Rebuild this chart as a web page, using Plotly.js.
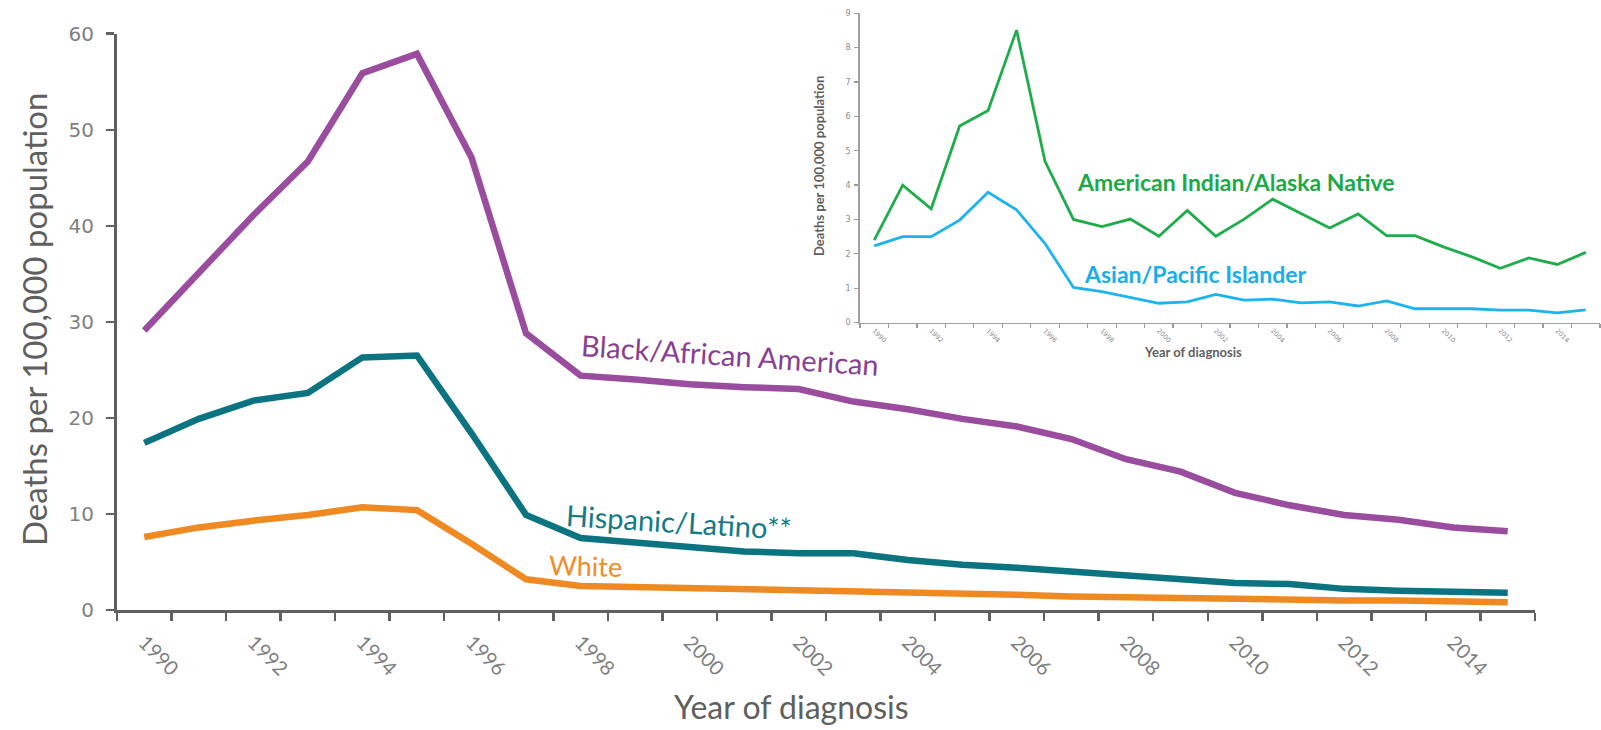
<!DOCTYPE html>
<html>
<head>
<meta charset="utf-8">
<script src="https://cdn.plot.ly/plotly-3.0.1.min.js"></script>
<style>
  html, body { margin: 0; padding: 0; background: #ffffff; }
  #chart { width: 1601px; height: 730px; }
</style>
</head>
<body>
<div id="chart"></div>
<script>
// ---- Data ----
const years = [1990, 1991, 1992, 1993, 1994, 1995, 1996, 1997, 1998, 1999, 2000, 2001, 2002,
               2003, 2004, 2005, 2006, 2007, 2008, 2009, 2010, 2011, 2012, 2013, 2014, 2015];

const tickYears  = [1990, 1992, 1994, 1996, 1998, 2000, 2002, 2004, 2006, 2008, 2010, 2012, 2014];
const tickLabels = ['1990', '1992', '1994', '1996', '1998', '2000', '2002', '2004', '2006', '2008', '2010', '2012', '2014'];

const blackAfricanAmerican = [29.1, 35.1, 41.1, 46.7, 55.9, 57.9, 47.1, 28.8, 24.4, 24.0, 23.5, 23.2, 23.0,
                              21.7, 20.9, 19.9, 19.1, 17.8, 15.7, 14.4, 12.2, 10.9, 9.9, 9.4, 8.6, 8.2];
const hispanicLatino = [17.4, 19.9, 21.8, 22.6, 26.3, 26.5, 18.4, 9.9, 7.5, 7.0, 6.5, 6.1, 5.9,
                        5.9, 5.2, 4.7, 4.4, 4.0, 3.5, 3.2, 2.8, 2.7, 2.2, 2.0, 1.9, 1.8];
const white = [7.6, 8.6, 9.3, 9.9, 10.7, 10.4, 6.9, 3.2, 2.5, 2.4, 2.2, 2.1, 2.0,
               2.0, 1.8, 1.7, 1.6, 1.4, 1.3, 1.2, 1.1, 1.0, 1.0, 1.0, 0.9, 0.8];

const americanIndianAlaskaNative = [2.4, 4.0, 3.31, 5.72, 6.17, 8.51, 4.69, 3.0, 2.79, 3.01, 2.51, 3.26, 2.51,
                                    3.01, 3.59, 3.16, 2.75, 3.16, 2.53, 2.53, 2.2, 1.91, 1.58, 1.88, 1.69, 2.04];
const asianPacificIslander = [2.23, 2.5, 2.5, 2.98, 3.79, 3.28, 2.3, 1.02, 0.9, 0.73, 0.56, 0.6, 0.82,
                              0.65, 0.68, 0.57, 0.6, 0.48, 0.63, 0.4, 0.4, 0.4, 0.36, 0.36, 0.28, 0.37];

// ---- Styling ----
const W = 1601, H = 730;
const px = x => x / W;          // pixel -> paper x
const py = y => 1 - y / H;      // pixel (from top) -> paper y

const C = {
  black: '#9a4c9f', blackText: '#8a3f94',
  hisp: '#0b7480', hispText: '#137b86',
  white: '#ef8a22', whiteText: '#ef8d2a',
  aian: '#1fad4c', aianText: '#1caa49',
  api: '#1db3ef', apiText: '#1aaee9',
  axis: '#606060', tick: '#7f7f7f', title: '#5f5f5f'
};

const traces = [
  { x: years, y: blackAfricanAmerican, name: 'Black/African American', type: 'scatter', mode: 'lines',
    line: { color: C.black, width: 6.5 }, xaxis: 'x', yaxis: 'y' },
  { x: years, y: hispanicLatino, name: 'Hispanic/Latino**', type: 'scatter', mode: 'lines',
    line: { color: C.hisp, width: 6.5 }, xaxis: 'x', yaxis: 'y' },
  { x: years, y: white, name: 'White', type: 'scatter', mode: 'lines',
    line: { color: C.white, width: 6.5 }, xaxis: 'x', yaxis: 'y' },
  { x: years, y: americanIndianAlaskaNative, name: 'American Indian/Alaska Native', type: 'scatter', mode: 'lines',
    line: { color: C.aian, width: 2.8 }, xaxis: 'x2', yaxis: 'y2' },
  { x: years, y: asianPacificIslander, name: 'Asian/Pacific Islander', type: 'scatter', mode: 'lines',
    line: { color: C.api, width: 2.8 }, xaxis: 'x2', yaxis: 'y2' }
];

const layout = {
  width: W, height: H,
  margin: { l: 0, r: 0, t: 0, b: 0 },
  paper_bgcolor: '#ffffff',
  plot_bgcolor: 'rgba(0,0,0,0)',
  showlegend: false,
  font: { family: 'Lato, "Open Sans", sans-serif', color: C.title },
  xaxis: {
    domain: [px(117), px(1535)],
    range: [1989.5, 2015.5],
    anchor: 'y',
    tickmode: 'array', tickvals: tickYears, ticktext: tickLabels,
    ticks: '', tickangle: 45, ticklabelstandoff: 10,
    tickfont: { family: 'Lato', size: 20, color: C.tick },
    minor: { tick0: 1989.5, dtick: 1, ticks: 'outside', ticklen: 8, tickwidth: 2.5, tickcolor: C.axis, showgrid: false },
    showline: true, linecolor: C.axis, linewidth: 3,
    showgrid: false, zeroline: false
  },
  yaxis: {
    domain: [py(610), py(33.7)],
    range: [0, 60],
    anchor: 'x',
    tickmode: 'linear', tick0: 0, dtick: 10,
    ticks: 'outside', ticklen: 8, tickwidth: 2.5, tickcolor: C.axis,
    ticklabelstandoff: 8,
    tickfont: { family: 'DejaVu Sans', size: 20, color: C.tick },
    showline: true, linecolor: C.axis, linewidth: 3,
    showgrid: false, zeroline: false
  },
  xaxis2: {
    domain: [px(860), px(1600)],
    range: [1989.5, 2015.5],
    anchor: 'y2',
    tickmode: 'array', tickvals: tickYears, ticktext: tickLabels,
    ticks: '', tickangle: 45, ticklabelstandoff: 0,
    tickfont: { family: 'DejaVu Sans', size: 6.5, color: '#8a8a8a' },
    minor: { tick0: 1989.5, dtick: 1, ticks: 'outside', ticklen: 4, tickwidth: 1.2, tickcolor: '#9a9a9a', showgrid: false },
    showline: true, linecolor: '#a0a0a0', linewidth: 1.8,
    showgrid: false, zeroline: false
  },
  yaxis2: {
    domain: [py(322.5), py(13.3)],
    range: [0, 9],
    anchor: 'x2',
    tickmode: 'linear', tick0: 0, dtick: 1,
    ticks: 'outside', ticklen: 4, tickwidth: 1.2, tickcolor: '#9a9a9a',
    ticklabelstandoff: 2,
    tickfont: { family: 'DejaVu Sans', size: 8, color: '#8a8a8a' },
    showline: true, linecolor: '#a0a0a0', linewidth: 1.8,
    showgrid: false, zeroline: false
  },
  annotations: [
    // main axis titles
    { text: 'Deaths per 100,000 population', xref: 'paper', yref: 'paper', x: px(34), y: py(320),
      xanchor: 'center', yanchor: 'middle', textangle: -90, showarrow: false,
      font: { family: 'Lato', size: 33, color: C.title } },
    { text: 'Year of diagnosis', xref: 'paper', yref: 'paper', x: px(791), y: py(706),
      xanchor: 'center', yanchor: 'middle', showarrow: false,
      font: { family: 'Lato', size: 32, color: C.title } },
    // main series labels
    { text: 'Black/African American', xref: 'paper', yref: 'paper', x: px(730), y: py(355),
      xanchor: 'center', yanchor: 'middle', textangle: 3.8, showarrow: false,
      font: { family: 'Lato', size: 29, color: C.blackText } },
    { text: 'Hispanic/Latino**', xref: 'paper', yref: 'paper', x: px(679), y: py(521),
      xanchor: 'center', yanchor: 'middle', textangle: 3.5, showarrow: false,
      font: { family: 'Lato', size: 29, color: C.hispText } },
    { text: 'White', xref: 'paper', yref: 'paper', x: px(585), y: py(565),
      xanchor: 'center', yanchor: 'middle', textangle: 1.5, showarrow: false,
      font: { family: 'Lato', size: 27, color: C.whiteText } },
    // inset titles
    { text: '<b>Deaths per 100,000 population</b>', xref: 'paper', yref: 'paper', x: px(819), y: py(166),
      xanchor: 'center', yanchor: 'middle', textangle: -90, showarrow: false,
      font: { family: 'Lato', size: 13, color: C.title } },
    { text: '<b>Year of diagnosis</b>', xref: 'paper', yref: 'paper', x: px(1193), y: py(352),
      xanchor: 'center', yanchor: 'middle', showarrow: false,
      font: { family: 'Lato', size: 13, color: C.title } },
    // inset series labels
    { text: '<b>American Indian/Alaska Native</b>', xref: 'paper', yref: 'paper', x: px(1236), y: py(182),
      xanchor: 'center', yanchor: 'middle', showarrow: false,
      font: { family: 'Lato', size: 23, color: C.aianText } },
    { text: '<b>Asian/Pacific Islander</b>', xref: 'paper', yref: 'paper', x: px(1195), y: py(274),
      xanchor: 'center', yanchor: 'middle', showarrow: false,
      font: { family: 'Lato', size: 23, color: C.apiText } }
  ]
};

Plotly.newPlot('chart', traces, layout, { staticPlot: true, displayModeBar: false });
</script>
</body>
</html>
